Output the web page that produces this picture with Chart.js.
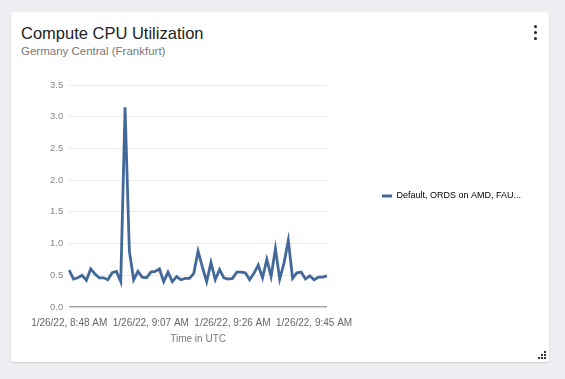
<!DOCTYPE html>
<html>
<head>
<meta charset="utf-8">
<script src="https://cdn.jsdelivr.net/npm/chart.js@4.4.0/dist/chart.umd.min.js"></script>
<style>
  html, body { margin: 0; padding: 0; }
  body {
    width: 565px; height: 379px; overflow: hidden; position: relative;
    background: #eceef1;
    font-family: "Helvetica Neue", Helvetica, Arial, "Liberation Sans", sans-serif;
  }
  .card {
    position: absolute; left: 11px; top: 12px; width: 538px; height: 350px;
    background: #fff; border-radius: 3px;
    box-shadow: 0 1px 2px rgba(0,0,0,.14);
  }
  .title {
    position: absolute; left: 10px; top: 11px;
    font-size: 16.5px; line-height: 20px; color: #222;
  }
  .subtitle {
    position: absolute; left: 10px; top: 32px;
    font-size: 11.5px; line-height: 14px; color: #777;
  }
  .menu span {
    position: absolute; left: 523px; width: 3px; height: 3px;
    border-radius: 50%; background: #222;
  }
  .grip {
    position: absolute; left: 533px; top: 339px; width: 2px; height: 2px;
    background: #333;
    box-shadow: -3px 3px 0 #333, 0 3px 0 #333, -6px 6px 0 #333, -3px 6px 0 #333, 0 6px 0 #333;
  }
  #chart { position: absolute; left: 0; top: 0; }
</style>
</head>
<body>
<div class="card">
  <div class="title">Compute CPU Utilization</div>
  <div class="subtitle">Germany Central (Frankfurt)</div>
  <div class="menu"><span style="top:13px"></span><span style="top:19px"></span><span style="top:25px"></span></div>
  <div class="grip"></div>
</div>
<canvas id="chart" width="565" height="379"></canvas>
<script>
  /* ---- data (one sample per minute, UTC) ---- */
  const DATE_PREFIX = "1/26/22, ";
  const times = [
    "8:48 AM", "8:49 AM", "8:50 AM", "8:51 AM", "8:52 AM", "8:53 AM", "8:54 AM", "8:55 AM",
    "8:56 AM", "8:57 AM", "8:58 AM", "8:59 AM", "9:00 AM", "9:01 AM", "9:02 AM", "9:03 AM",
    "9:04 AM", "9:05 AM", "9:06 AM", "9:07 AM", "9:08 AM", "9:09 AM", "9:10 AM", "9:11 AM",
    "9:12 AM", "9:13 AM", "9:14 AM", "9:15 AM", "9:16 AM", "9:17 AM", "9:18 AM", "9:19 AM",
    "9:20 AM", "9:21 AM", "9:22 AM", "9:23 AM", "9:24 AM", "9:25 AM", "9:26 AM", "9:27 AM",
    "9:28 AM", "9:29 AM", "9:30 AM", "9:31 AM", "9:32 AM", "9:33 AM", "9:34 AM", "9:35 AM",
    "9:36 AM", "9:37 AM", "9:38 AM", "9:39 AM", "9:40 AM", "9:41 AM", "9:42 AM", "9:43 AM",
    "9:44 AM", "9:45 AM", "9:46 AM", "9:47 AM", "9:48 AM"
  ];
  const cpuValues = [
    0.58, 0.44, 0.46, 0.50, 0.42, 0.60, 0.52, 0.46, 0.46, 0.43, 0.54, 0.56, 0.40, 3.15, 0.88, 0.43,
    0.56, 0.47, 0.46, 0.55, 0.56, 0.60, 0.40, 0.55, 0.40, 0.48, 0.43, 0.45, 0.45, 0.53, 0.88, 0.63,
    0.40, 0.70, 0.43, 0.59, 0.46, 0.44, 0.45, 0.55, 0.55, 0.54, 0.43, 0.53, 0.66, 0.46, 0.75, 0.48,
    0.92, 0.44, 0.69, 1.05, 0.45, 0.54, 0.55, 0.44, 0.49, 0.43, 0.47, 0.47, 0.49
  ];
  const seriesName = "Default, ORDS on AMD, FAU...";
  const tickEvery = 19;          // x labels shown: 8:48, 9:07, 9:26, 9:45
  const yMax = 3.5;
  const yStep = 0.5;

  const LINE = "#43699b";
  const FONT = "'Helvetica Neue', Helvetica, Arial, 'Liberation Sans', sans-serif";

  Chart.defaults.font.family = FONT;

  new Chart(document.getElementById("chart").getContext("2d"), {
    type: "line",
    data: {
      labels: times.map(t => DATE_PREFIX + t),
      datasets: [{
        label: seriesName,
        data: cpuValues,
        borderColor: LINE,
        backgroundColor: LINE,
        borderWidth: 2.8,
        pointRadius: 0,
        tension: 0,
        fill: false
      }]
    },
    options: {
      responsive: false,
      devicePixelRatio: 1,
      animation: false,
      layout: { padding: { left: 44, top: 85, right: 34, bottom: 34 } },
      plugins: {
        tooltip: { enabled: false },
        legend: {
          position: "right",
          fullSize: false,
          maxWidth: 220,
          labels: {
            font: { size: 9 },
            color: "#444",
            boxWidth: 10,
            boxHeight: 3,
            padding: 3,
            generateLabels: chart => chart.data.datasets.map((ds, i) => ({
              text: ds.label,
              fillStyle: ds.borderColor,
              strokeStyle: ds.borderColor,
              lineWidth: 0,
              hidden: false,
              datasetIndex: i
            }))
          }
        }
      },
      scales: {
        x: {
          grid: { display: false, drawTicks: false },
          border: { display: true, color: "#a3a3a3", width: 1.2 },
          ticks: {
            autoSkip: false,
            maxRotation: 0,
            padding: 10,
            color: "#666",
            font: { size: 10 },
            callback: (v, i) => (i % tickEvery === 0 ? DATE_PREFIX + times[i] : "")
          },
          title: {
            display: true,
            text: "Time in UTC",
            color: "#777",
            font: { size: 10 },
            padding: { top: -6, bottom: 0 }
          }
        },
        y: {
          min: 0,
          max: yMax,
          grid: { color: "#ececec", drawTicks: false },
          border: { display: false },
          ticks: {
            stepSize: yStep,
            padding: 6,
            color: "#888",
            font: { size: 9.5 },
            callback: v => v.toFixed(1)
          }
        },
        /* empty spacer between plot and legend */
        gap: {
          position: "right",
          grid: { display: false },
          border: { display: false },
          ticks: { display: false },
          afterFit: s => { s.width = 52; }
        }
      }
    }
  });
</script>
</body>
</html>
